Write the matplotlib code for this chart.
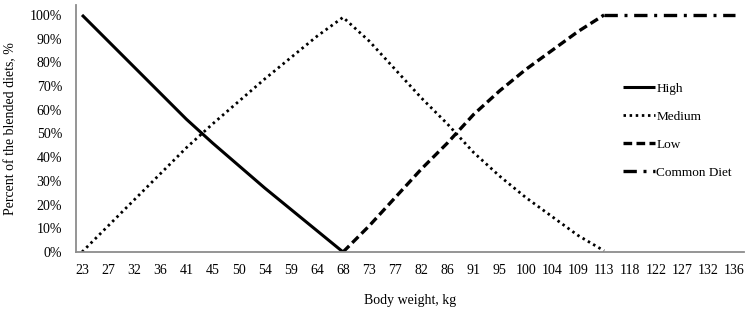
import matplotlib
matplotlib.use("Agg")
import matplotlib.pyplot as plt
from matplotlib.ticker import FuncFormatter

categories = ["23", "27", "32", "36", "41", "45", "50", "54", "59", "64", "68", "73", "77",
              "82", "86", "91", "95", "100", "104", "109", "113", "118", "122", "127", "132", "136"]

high = [100, 89, 78, 67, 56, 46, 36.5, 27, 18, 9, 0]
medium = [0, 11, 22, 33, 44, 54, 63.5, 73, 82, 91, 99, 89, 77, 65, 54, 42, 32, 23, 15, 7, 0.5]
low = [0, 11, 23, 35, 46, 58, 68, 77, 85, 93, 100]
common = [100, 100, 100, 100, 100, 100]

plt.rcParams['font.family'] = ['Liberation Serif', 'DejaVu Serif']

fig = plt.figure(figsize=(7.5, 3.15), dpi=100)
ax = fig.add_axes([76/750, 1 - 252/315, (744 - 76)/750, (252 - 5)/315])

x_high = list(range(0, 11))
x_med = list(range(0, 21))
x_low = list(range(10, 21))
x_com = list(range(20, 26))

lw = 2.2
ax.plot(x_high, high, color='black', lw=lw, solid_capstyle='butt', label='High')
ax.plot(x_med, medium, color='black', lw=2.0, linestyle=(0, (0.9, 1.3)), dash_capstyle='butt', label='Medium')
ax.plot(x_low, low, color='black', lw=2.4, linestyle=(0, (2.6, 1.3)), dash_capstyle='butt', label='Low')
ax.plot(x_com, common, color='black', lw=2.4, linestyle=(0, (4.0, 2.0, 0.9, 2.0)), dash_capstyle='butt', label='Common Diet')

ax.set_xlim(-0.23, 25.36)
ax.set_ylim(0, 104.2)
ax.set_xticks(range(len(categories)))
ax.set_xticklabels(categories)
ax.set_yticks(range(0, 101, 10))
ax.yaxis.set_major_formatter(FuncFormatter(lambda v, p: f"{int(v)}%"))
ax.tick_params(axis='both', length=0, labelsize=10, colors='black')
ax.tick_params(axis='x', pad=9)
ax.tick_params(axis='y', pad=10)

for s in ['top', 'right']:
    ax.spines[s].set_visible(False)
for s in ['left', 'bottom']:
    ax.spines[s].set_color('#8c8c8c')
    ax.spines[s].set_linewidth(1.3)

ax.set_xlabel('Body weight, kg', fontsize=10, labelpad=12)
ax.set_ylabel('Percent of the blended diets, %', fontsize=10, labelpad=9)

leg = ax.legend(loc='upper left', bbox_to_anchor=((618 - 76)/668, (252 - 77)/247),
                frameon=False, fontsize=9.5, handlelength=2.4, handletextpad=0.1,
                labelspacing=1.2, borderaxespad=0)

fig.savefig('out.png', dpi=100)
